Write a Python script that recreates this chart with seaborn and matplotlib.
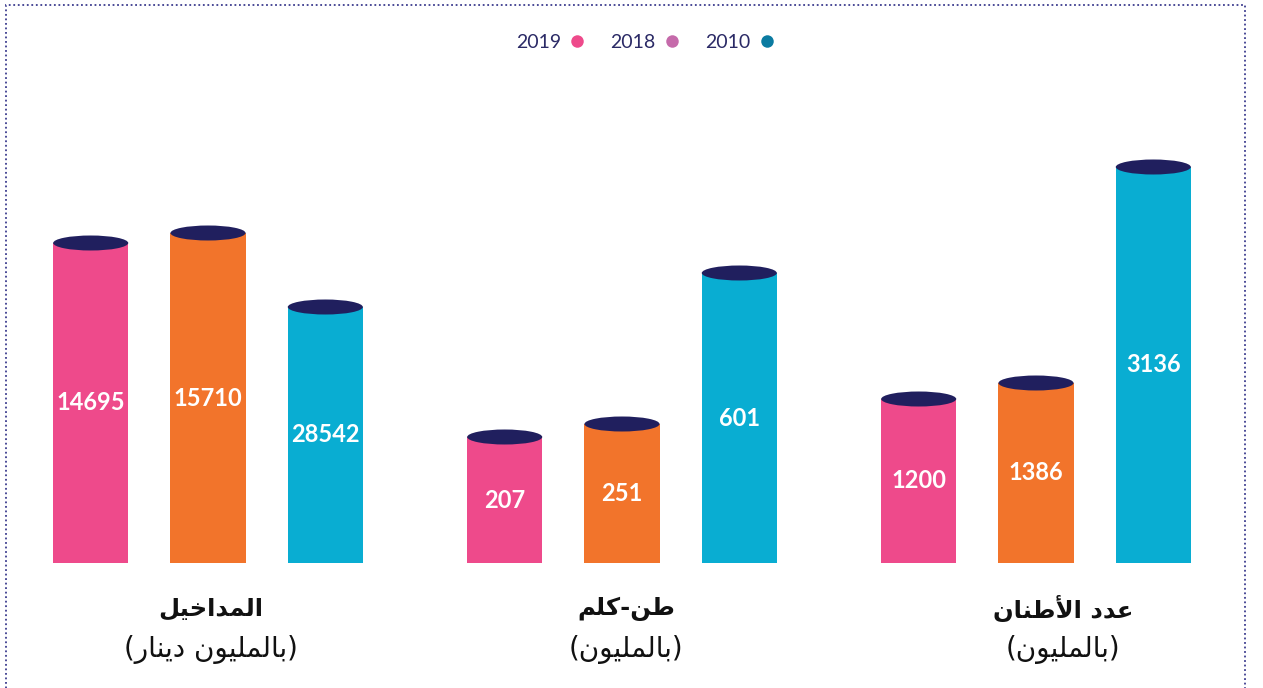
import matplotlib
matplotlib.use("Agg")
import matplotlib.pyplot as plt
import numpy as np
import pandas as pd
import seaborn as sns
from matplotlib.patches import Ellipse, Rectangle
from matplotlib.lines import Line2D

# ---------------- data ----------------
categories = ["المداخيل", "طن-كلم", "عدد الأطنان"]
units = ["(بالمليون دينار)", "(بالمليون)", "(بالمليون)"]
years = ["2019", "2018", "2010"]
values_2019 = [14695, 207, 1200]
values_2018 = [15710, 251, 1386]
values_2010 = [28542, 601, 3136]
# pictorial bar heights as drawn in the picture (not to scale with the values)
heights_2019 = [320, 126, 164]
heights_2018 = [330, 139, 180]
heights_2010 = [256, 290, 396]

bar_colors = ["#EE4A8B", "#F2742B", "#09ADD2"]
legend_colors = ["#EE4A8B", "#C56AAA", "#0B7BA1"]
cap_color = "#201F5E"
navy = "#2B2A66"

# ---------------- minimal Arabic shaping ----------------
FORMS = {
    'ا': ('\uFE8D', '\uFE8E', None, None),
    'أ': ('\uFE83', '\uFE84', None, None),
    'ب': ('\uFE8F', '\uFE90', '\uFE91', '\uFE92'),
    'خ': ('\uFEA5', '\uFEA6', '\uFEA7', '\uFEA8'),
    'د': ('\uFEA9', '\uFEAA', None, None),
    'ر': ('\uFEAD', '\uFEAE', None, None),
    'ط': ('\uFEC1', '\uFEC2', '\uFEC3', '\uFEC4'),
    'ع': ('\uFEC9', '\uFECA', '\uFECB', '\uFECC'),
    'ك': ('\uFED9', '\uFEDA', '\uFEDB', '\uFEDC'),
    'ل': ('\uFEDD', '\uFEDE', '\uFEDF', '\uFEE0'),
    'م': ('\uFEE1', '\uFEE2', '\uFEE3', '\uFEE4'),
    'ن': ('\uFEE5', '\uFEE6', '\uFEE7', '\uFEE8'),
    'و': ('\uFEED', '\uFEEE', None, None),
    'ي': ('\uFEF1', '\uFEF2', '\uFEF3', '\uFEF4'),
    'LA': ('\uFEFB', '\uFEFC', None, None),
    'LAH': ('\uFEF7', '\uFEF8', None, None),
}


def shape(text):
    toks = []
    i = 0
    while i < len(text):
        c = text[i]
        if c == 'ل' and i + 1 < len(text) and text[i + 1] in 'اأ':
            toks.append('LA' if text[i + 1] == 'ا' else 'LAH')
            i += 2
        else:
            toks.append(c)
            i += 1
    out = []
    for j, t in enumerate(toks):
        if t not in FORMS:
            out.append(t)
            continue
        f = FORMS[t]
        prev = toks[j - 1] if j > 0 else None
        nxt = toks[j + 1] if j + 1 < len(toks) else None
        jp = prev in FORMS and FORMS[prev][2] is not None
        jn = f[2] is not None and nxt in FORMS
        if jp and jn:
            out.append(f[3])
        elif jp:
            out.append(f[1])
        elif jn:
            out.append(f[2])
        else:
            out.append(f[0])
    vis = ''.join(reversed(out))
    return vis.translate(str.maketrans('()', ')('))


# ---------------- build table ----------------
heights = {"2019": heights_2019, "2018": heights_2018, "2010": heights_2010}
values = {"2019": values_2019, "2018": values_2018, "2010": values_2010}
rows = []
for y in years:
    for ci, c in enumerate(categories):
        rows.append({"category": c, "year": y, "height": heights[y][ci], "value": values[y][ci]})
df = pd.DataFrame(rows)

sns.set_theme(style="white")
plt.rcParams['font.family'] = ['Lato', 'DejaVu Sans']

W, H = 1263, 688
fig = plt.figure(figsize=(W / 100, H / 100), dpi=100)
ax = fig.add_axes([0, 0, 1, 1])

sns.barplot(data=df, x="category", y="height", hue="year", order=categories,
            hue_order=years, palette=bar_colors, saturation=1, width=0.85, gap=0.36,
            linewidth=0, legend=False, ax=ax, zorder=2)

PX = 414.0  # pixels per category unit
ax.set_xlim(-208 / PX, (W - 208) / PX)
ax.set_ylim(-(H - 563), 563)
ax.axis("off")

cap_h = 15
for hi, cont in enumerate(ax.containers):
    y = years[hi]
    for ci, bar in enumerate(cont):
        x0, w, h = bar.get_x(), bar.get_width(), bar.get_height()
        ax.add_patch(Ellipse((x0 + w / 2, h), w, cap_h, facecolor=cap_color,
                             edgecolor="none", zorder=3))
        ax.text(x0 + w / 2, h / 2, str(values[y][ci]), ha="center", va="center",
                color="white", fontsize=17, fontweight="bold", family="Lato", zorder=4)

label_x_px = [211, 626, 1063]
for ci, (c, u) in enumerate(zip(categories, units)):
    xc = (label_x_px[ci] - 208) / PX
    ax.text(xc, 563 - 609, shape(c), ha="center", va="center", fontsize=17.5,
            fontweight="bold", color="#111111", family="DejaVu Sans")
    ax.text(xc, 563 - 649, shape(u), ha="center", va="center", fontsize=20,
            color="#111111", family="DejaVu Sans")

handles = [Line2D([], [], marker="o", linestyle="", markersize=9,
                  markerfacecolor=col, markeredgecolor="none") for col in legend_colors]
fig.legend(handles, years, loc="center", bbox_to_anchor=(0.511, 1 - 42 / H), ncol=3,
           frameon=False, markerfirst=False, handletextpad=0.45, columnspacing=1.3,
           handlelength=0.8, prop={"family": "Lato", "size": 14}, labelcolor=navy)

fig.add_artist(Rectangle((6 / W, -0.1), (1245 - 6) / W, (1 - 5 / H) + 0.1,
                         transform=fig.transFigure, fill=False, linestyle=(0, (1, 1.5)),
                         linewidth=1.3, edgecolor="#3D3D8F"))

fig.savefig("out.png", dpi=100)
